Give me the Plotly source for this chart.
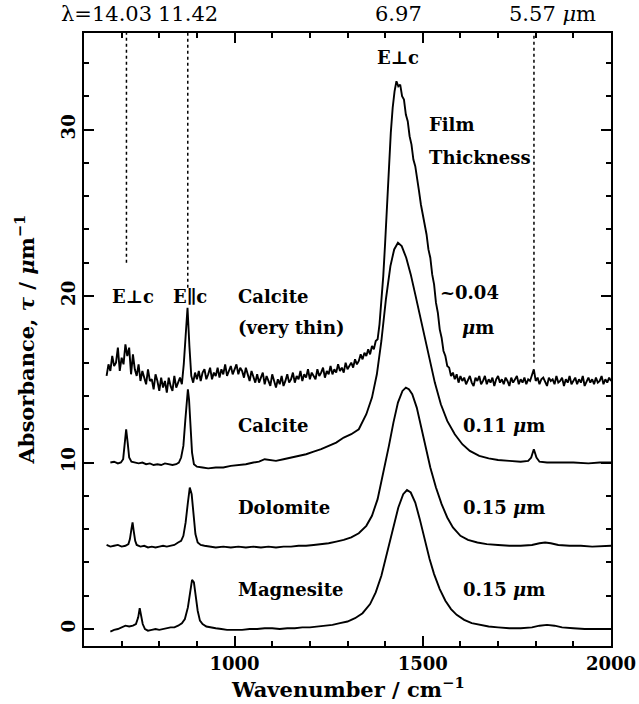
import plotly.graph_objects as go

# ---------------- data ----------------
# Magnesite (offset 0)
mag_x = [670, 680, 690, 700, 710, 720, 730, 738, 744, 748, 752, 756, 762, 770, 780, 790, 800, 810, 820, 830,
         840, 850, 860, 868, 876, 882, 887, 892, 897, 902, 908, 915, 925, 935, 950, 965, 980, 1000, 1020, 1040,
         1060, 1080, 1100, 1120, 1140, 1160, 1180, 1200, 1220, 1240, 1260, 1280, 1300, 1320, 1340, 1360, 1375,
         1390, 1405, 1420, 1435, 1448, 1458, 1468, 1480, 1492, 1505, 1518, 1530, 1545, 1560, 1575, 1590, 1610,
         1630, 1650, 1675, 1700, 1730, 1760, 1790, 1810, 1830, 1850, 1870, 1900, 1930, 1960, 2000]
mag_y = [-0.15, -0.05, 0.0, 0.1, 0.2, 0.15, 0.2, 0.3, 0.7, 1.25, 0.8, 0.3, 0.0, -0.1, -0.05, 0.0, -0.05, 0.0, 0.05, 0.1,
         0.1, 0.2, 0.35, 0.6, 1.3, 2.3, 2.95, 2.8, 2.0, 1.1, 0.5, 0.3, 0.15, 0.1, 0.05, 0.0, -0.05, -0.05, -0.05, 0.0,
         0.0, 0.05, 0.05, 0.0, 0.05, 0.05, 0.1, 0.1, 0.15, 0.2, 0.25, 0.35, 0.45, 0.65, 0.95, 1.5, 2.2,
         3.2, 4.6, 6.0, 7.3, 8.1, 8.35, 8.2, 7.6, 6.6, 5.4, 4.2, 3.3, 2.4, 1.7, 1.2, 0.85, 0.55,
         0.35, 0.25, 0.15, 0.1, 0.05, 0.05, 0.1, 0.2, 0.25, 0.2, 0.1, 0.05, 0.0, 0.0, 0.0]

# Dolomite (offset 5)
dol_x = [660, 670, 680, 690, 700, 710, 718, 722, 726, 729, 732, 736, 740, 750, 760, 770, 780, 790, 800, 810,
         820, 830, 840, 850, 858, 864, 870, 876, 881, 886, 891, 896, 902, 910, 920, 935, 950, 970, 990, 1010,
         1030, 1050, 1070, 1090, 1110, 1130, 1150, 1170, 1190, 1210, 1230, 1250, 1270, 1290, 1310, 1330, 1350,
         1365, 1380, 1395, 1410, 1422, 1434, 1446, 1455, 1463, 1472, 1484, 1496, 1508, 1520, 1535, 1550, 1565,
         1580, 1600, 1620, 1645, 1670, 1700, 1730, 1760, 1790, 1810, 1825, 1840, 1860, 1890, 1920, 1950, 1980, 2000]
dol_y = [5.05, 4.95, 5.0, 5.05, 4.95, 5.0, 5.1, 5.4, 6.0, 6.4, 5.9, 5.3, 5.05, 4.95, 5.0, 4.9, 4.95, 4.9, 4.95, 5.0,
         4.95, 5.0, 5.05, 5.2, 5.3, 5.6, 6.4, 7.6, 8.5, 8.1, 6.8, 5.7, 5.2, 5.05, 5.0, 4.95, 4.9, 4.95, 4.9, 4.95,
         4.9, 4.95, 4.9, 4.95, 4.9, 4.95, 4.95, 5.0, 5.0, 5.05, 5.1, 5.15, 5.25, 5.35, 5.5, 5.75, 6.2,
         6.8, 7.8, 9.3, 11.0, 12.4, 13.6, 14.3, 14.5, 14.4, 14.1, 13.3, 12.1, 10.9, 9.7, 8.5, 7.5, 6.7,
         6.1, 5.6, 5.35, 5.2, 5.1, 5.05, 5.0, 5.0, 5.05, 5.15, 5.2, 5.15, 5.05, 5.0, 5.0, 4.95, 5.0, 5.0]

# Calcite (offset 10)
cal_x = [670, 680, 690, 698, 704, 708, 712, 716, 720, 726, 735, 745, 755, 765, 775, 785, 795, 805, 815, 825,
         835, 845, 852, 858, 864, 869, 873, 876, 879, 883, 887, 892, 900, 915, 930, 950, 970, 990, 1010, 1030,
         1050, 1065, 1080, 1095, 1110, 1130, 1150, 1170, 1190, 1210, 1230, 1250, 1270, 1290, 1310, 1330, 1350,
         1365, 1378, 1390, 1402, 1414, 1424, 1434, 1444, 1456, 1468, 1480, 1492, 1505, 1518, 1532, 1548, 1565,
         1585, 1605, 1625, 1650, 1675, 1700, 1730, 1760, 1780, 1788, 1795, 1802, 1810, 1830, 1860, 1900, 1940,
         1970, 2000]
cal_y = [10.0, 10.05, 9.95, 10.0, 10.2, 11.0, 12.0, 11.2, 10.3, 10.05, 10.0, 9.95, 10.0, 9.9, 9.95, 9.85, 9.9, 9.85,
         9.95, 9.9, 9.85, 9.9, 10.0, 10.3, 11.0, 12.5, 14.0, 14.4, 13.8, 12.0, 10.6, 9.9, 9.75, 9.7, 9.65, 9.7, 9.7,
         9.8, 9.85, 9.9, 10.0, 10.05, 10.2, 10.15, 10.1, 10.2, 10.3, 10.4, 10.5, 10.65, 10.8, 11.0, 11.2, 11.5,
         11.7, 12.0, 12.9, 13.9, 15.3, 17.3, 19.8, 21.8, 22.8, 23.2, 23.0, 22.3, 21.3, 20.1, 18.9, 17.5, 16.1,
         14.8, 13.5, 12.5, 11.7, 11.1, 10.7, 10.4, 10.25, 10.15, 10.1, 10.05, 10.1, 10.3, 10.8, 10.3, 10.05, 10.0,
         10.0, 10.0, 9.95, 10.0, 10.0]

# Calcite, very thin film (offset 15), sampled every 5 cm^-1 from 660 to 2000
thin_x = list(range(660, 2001, 5))
thin_y = [
    15.2, 15.9, 15.5, 16.4, 15.8, 16.0, 16.9, 15.5, 16.3, 15.9,   # 660-705
    17.1, 16.4, 16.9, 15.3, 16.5, 15.6, 15.2, 15.9, 14.9, 15.5,   # 710-755
    15.1, 14.7, 15.6, 14.9, 15.0, 14.4, 15.3, 14.9, 14.3, 15.1,   # 760-805
    14.5, 14.9, 14.2, 15.1, 14.6, 14.3, 15.2, 14.5, 14.8, 15.1,   # 810-855
    14.7, 15.9, 17.6, 19.3, 17.0, 15.2, 14.8, 15.4, 15.0, 15.5,   # 860-905
    14.9, 15.4, 15.6, 15.0, 15.3, 15.7, 15.0, 15.4, 15.2, 15.7,   # 910-955
    15.1, 15.6, 15.3, 15.9, 15.2, 15.5, 15.8, 15.3, 15.6, 15.9,   # 960-1005
    15.3, 15.7, 15.5, 15.1, 15.7, 15.3, 14.9, 15.5, 15.2, 14.8,   # 1010-1055
    15.3, 14.8, 15.1, 15.4, 14.7, 15.2, 14.9, 14.6, 15.3, 14.9,   # 1060-1105
    14.5, 15.0, 14.7, 15.2, 14.6, 14.9, 15.3, 14.8, 15.0, 15.4,   # 1110-1155
    14.8, 15.2, 15.0, 15.5, 14.9, 15.3, 15.1, 15.6, 15.0, 15.4,   # 1160-1205
    15.2, 15.0, 15.6, 15.2, 15.4, 15.7, 15.1, 15.5, 15.3, 15.8,   # 1210-1255
    15.3, 15.6, 15.4, 15.9, 15.5, 15.7, 15.4, 16.0, 15.6, 15.8,   # 1260-1305
    16.0, 15.7, 16.2, 15.9, 16.1, 16.5, 16.2, 16.6, 16.4, 16.8,   # 1310-1355
    16.5, 17.0, 16.8, 17.3, 17.4, 18.3, 19.6, 21.2, 23.2, 25.5,   # 1360-1405
    27.8, 29.8, 31.3, 32.3, 32.9, 32.6, 32.7, 32.0, 31.8, 30.9,   # 1410-1455
    30.5, 29.6, 29.1, 28.2, 27.8, 26.9, 26.3, 25.5, 24.9, 24.1,   # 1460-1505
    23.7, 22.8, 22.3, 21.3, 20.7, 19.6, 19.0, 18.0, 17.5, 16.7,   # 1510-1555
    16.4, 15.8, 15.7, 15.2, 15.4, 15.0, 15.3, 14.8, 15.2, 14.9,   # 1560-1605
    15.1, 14.7, 15.0, 15.2, 14.8, 14.6, 15.1, 14.9, 15.2, 14.7,   # 1610-1655
    14.9, 15.2, 14.7, 15.0, 14.8, 15.1, 14.6, 15.0, 15.2, 14.8,   # 1660-1705
    15.0, 14.7, 15.1, 14.9, 14.6, 15.1, 14.8, 15.0, 15.2, 14.7,   # 1710-1755
    15.0, 14.8, 15.1, 14.7, 15.0, 14.9, 15.3, 15.6, 14.9, 15.1,   # 1760-1805
    14.7, 15.0, 15.1, 14.8, 14.6, 15.1, 14.9, 15.0, 14.7, 15.2,   # 1810-1855
    14.8, 14.9, 15.1, 14.6, 15.0, 14.8, 15.2, 14.7, 14.9, 15.1,   # 1860-1905
    14.7, 15.0, 14.8, 15.2, 14.6, 14.9, 15.1, 14.8, 15.0, 14.7,   # 1910-1955
    15.1, 14.8, 14.9, 15.2, 14.7, 15.0, 14.8, 15.1, 14.9          # 1960-2000
]

# wavelength markers (micron) on the top edge, and where each dotted line stops (absorbance)
lambda_marks = [14.03, 11.42, 6.97, 5.57]
lambda_line_ends = [22.0, 20.5, None, 16.0]

x_ticks = [1000, 1500, 2000]
y_ticks = [0, 10, 20, 30]

X_RANGE = [600, 2000]
Y_RANGE = [-1.02, 35.8]

FONT = "DejaVu Serif"
TXT = 18
BOLD = "bold"

fig = go.Figure()
for xs, ys, w in [(mag_x, mag_y, 1.9), (dol_x, dol_y, 1.9), (cal_x, cal_y, 1.9), (thin_x, thin_y, 1.9)]:
    fig.add_trace(go.Scatter(x=xs, y=ys, mode="lines", line=dict(color="black", width=w),
                             showlegend=False, hoverinfo="skip"))

# dotted wavelength lines
for lam, yend in zip(lambda_marks, lambda_line_ends):
    if yend is None:
        continue
    wn = 1e4 / lam
    fig.add_shape(type="line", xref="x", yref="y", x0=wn, x1=wn, y0=yend, y1=Y_RANGE[1],
                  line=dict(color="black", width=1.5, dash="dot"))

ann = []
def A(text, x, y, xanchor="center", size=TXT, weight=BOLD, **kw):
    d = dict(text=text, x=x, y=y, xref="x", yref="y", xanchor=xanchor, yanchor="middle",
             showarrow=False, font=dict(family=FONT, size=size, color="black", weight=weight))
    d.update(kw)
    ann.append(d)

# top wavelength labels
wn0 = [1e4 / l for l in lambda_marks]
TOP = dict(yref="paper", yanchor="bottom", yshift=5, size=21, weight="normal")
A("λ=14.03", wn0[0], 1.0, xanchor="right", xshift=28, **TOP)
A("11.42", wn0[1], 1.0, **TOP)
A("6.97", wn0[2], 1.0, **TOP)
A("5.57 <i>μ</i>m", wn0[3], 1.0, xanchor="left", xshift=-27, **TOP)

A("E⊥c", 1434.7, 34.35)
A("E⊥c", 730, 19.95)
A("E∥c", 882, 19.95)
A("Calcite", 1004, 19.95, xanchor="left")
A("(very thin)", 1004, 18.1, xanchor="left")
A("Calcite", 1004, 12.2, xanchor="left")
A("Dolomite", 1004, 7.3, xanchor="left")
A("Magnesite", 1004, 2.35, xanchor="left")
A("Film", 1511, 30.3, xanchor="left")
A("Thickness", 1511, 28.3, xanchor="left")
A("~0.04", 1540, 20.2, xanchor="left")
A("<i>μ</i>m", 1647, 18.1)
A("0.11 <i>μ</i>m", 1602, 12.2, xanchor="left")
A("0.15 <i>μ</i>m", 1602, 7.3, xanchor="left")
A("0.15 <i>μ</i>m", 1602, 2.35, xanchor="left")

# axis titles
A("Wavenumber / cm<sup>−1</sup>", 0.5, -0.068, xref="paper", yref="paper", size=21)
A("Absorbance, <i>τ</i> / <i>μ</i>m<sup>−1</sup>", -0.112, 0.5, xref="paper", yref="paper", size=21,
  textangle=-90)

axis_common = dict(showgrid=False, zeroline=False, showline=True, linecolor="black", linewidth=2,
                   mirror="allticks", ticks="inside", ticklen=10, tickwidth=1.5, tickcolor="black",
                   automargin=False,
                   tickfont=dict(family=FONT, size=TXT, color="black", weight=BOLD))

fig.update_layout(
    width=639, height=704,
    margin=dict(l=84, r=28, t=33, b=58),
    paper_bgcolor="white", plot_bgcolor="white",
    annotations=ann,
    xaxis=dict(range=X_RANGE, tickvals=x_ticks, ticktext=[str(v) for v in x_ticks],
               minor=dict(dtick=100, tick0=0, ticks="inside", ticklen=5, tickwidth=1.5, tickcolor="black"),
               **axis_common),
    yaxis=dict(range=Y_RANGE, tickvals=y_ticks, ticktext=[str(v) for v in y_ticks], tickangle=-90,
               minor=dict(dtick=2, tick0=0, ticks="inside", ticklen=5, tickwidth=1.5, tickcolor="black"),
               **axis_common),
)

# remove the browser's default 8 px page margin so the 639x704 figure fills the window exactly
fig.write_html("out.html", config={"displayModeBar": False},
               post_script="document.body.style.margin='0';")
